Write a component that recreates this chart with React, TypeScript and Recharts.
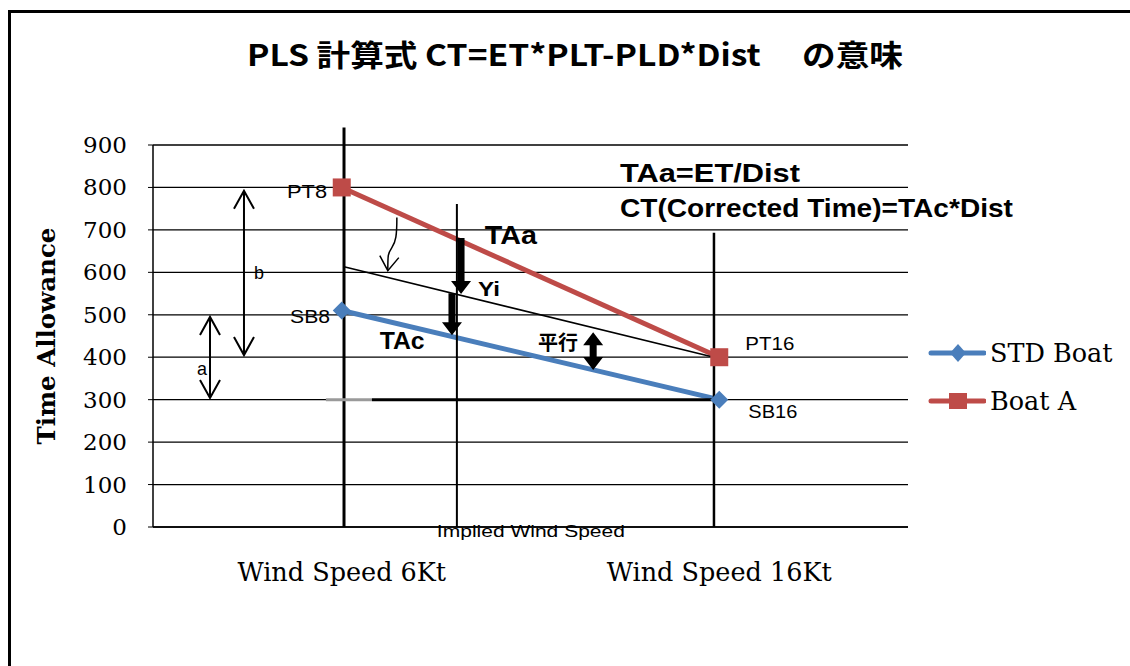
import React from 'react';
import {
  LineChart,
  Line,
  XAxis,
  YAxis,
  CartesianGrid,
  Legend,
  ReferenceLine,
  ReferenceDot,
} from 'recharts';

// ---------- data ----------
const categories = ['Wind Speed 6Kt', 'Wind Speed 16Kt'];
const stdBoat = [510, 300];
const boatA = [800, 400];
const yTicks = [0, 100, 200, 300, 400, 500, 600, 700, 800, 900];
const seriesNames = ['STD Boat', 'Boat A'];
const titleText = 'PLS 計算式 CT=ET*PLT-PLD*Dist\u3000 の意味';
const yAxisTitle = 'Time Allowance';

// category slots on a numeric axis (slot centers at 0.5, 1.5)
const data = categories.map((c, i) => ({ x: i + 0.5, name: c, std: stdBoat[i], a: boatA[i] }));
const xTicks = categories.map((_, i) => i + 0.5);

// annotation guide lines in data units
const guideLines = [
  { from: [0.506, 941], to: [0.506, 0], w: 3, c: '#000' },
  { from: [0.805, 761], to: [0.805, 0], w: 2, c: '#000' },
  { from: [1.486, 693], to: [1.486, 0], w: 2.5, c: '#000' },
  { from: [0.458, 300], to: [0.58, 300], w: 3, c: '#9a9a9a' },
  { from: [0.58, 300], to: [1.486, 300], w: 3, c: '#000' },
  { from: [0.506, 613], to: [1.486, 400], w: 1.6, c: '#000' },
];

// arrows in data units
const arrows = [
  { from: [0.241, 792], to: [0.241, 405], kind: 'open2' },
  { from: [0.151, 495], to: [0.151, 304], kind: 'open2' },
  { from: [0.816, 681], to: [0.816, 549], kind: 'solid1' },
  { from: [0.792, 551], to: [0.792, 452], kind: 'solid1' },
  { from: [1.166, 459], to: [1.166, 370], kind: 'solid2' },
  { from: [0.646, 729], to: [0.622, 604], kind: 'curl' },
];

// text notes in data units
const notes = [
  { t: 'PT8', x: 0.408, y: 790, size: 18, w: 40, bold: false },
  { t: 'SB8', x: 0.416, y: 497, size: 18, w: 40, bold: false },
  { t: 'PT16', x: 1.634, y: 433, size: 18, w: 49, bold: false },
  { t: 'SB16', x: 1.642, y: 271, size: 18, w: 49, bold: false },
  { t: 'TAa', x: 0.948, y: 688, size: 25, w: 52, bold: true },
  { t: 'Yi', x: 0.89, y: 561, size: 20, w: 22, bold: true },
  { t: 'TAc', x: 0.66, y: 438, size: 23, w: 45, bold: true },
  { t: '平行', x: 1.073, y: 434, size: 20, w: 40, bold: true, cjk: true },
  { t: 'TAa=ET/Dist', x: 1.237, y: 834, size: 25, w: 180, bold: true, anchor: 'start' },
  { t: 'CT(Corrected Time)=TAc*Dist', x: 1.237, y: 752, size: 25, w: 393, bold: true, anchor: 'start' },
  { t: 'Implied Wind Speed', x: 1.001, y: -9, size: 16, w: 188, bold: false },
  { t: 'b', x: 0.281, y: 601, size: 19, w: 10, bold: false },
  { t: 'a', x: 0.13, y: 375, size: 19, w: 10, bold: false },
];

// ---------- styles ----------
const FONT_SERIF = '"DejaVu Serif", serif';
const FONT_SANS = '"Liberation Sans", Arial, sans-serif';
const FONT_CJK = '"Noto Sans CJK JP", sans-serif';
const BLUE = '#4a7ebb';
const RED = '#be4b48';

function DiamondDot(props: any) {
  const { cx, cy, index } = props;
  if (cx == null || cy == null) return null;
  const r = 9;
  return (
    <polygon
      key={`dia-${index}`}
      points={`${cx},${cy - r} ${cx + r},${cy} ${cx},${cy + r} ${cx - r},${cy}`}
      fill={BLUE}
    />
  );
}

function SquareDot(props: any) {
  const { cx, cy, index } = props;
  if (cx == null || cy == null) return null;
  return <rect key={`sq-${index}`} x={cx - 9} y={cy - 9} width={18} height={18} fill={RED} />;
}

function arrowShape(kind: string) {
  return (p: any) => {
    const { x1, y1, x2, y2 } = p;
    if (x1 == null || y1 == null) return null;
    const dx = x2 - x1;
    const dy = y2 - y1;
    const len = Math.hypot(dx, dy) || 1;
    const ux = dx / len;
    const uy = dy / len;
    const nx = -uy;
    const ny = ux;
    if (kind === 'open2') {
      const L = 18;
      const W = 10;
      const head = (tx: number, ty: number, ddx: number, ddy: number) =>
        `M${tx - ddx * L + nx * W},${ty - ddy * L + ny * W} L${tx},${ty} L${tx - ddx * L - nx * W},${ty - ddy * L - ny * W}`;
      const d = `M${x1},${y1} L${x2},${y2} ${head(x2, y2, ux, uy)} ${head(x1, y1, -ux, -uy)}`;
      return <path d={d} stroke="#000" strokeWidth={2} fill="none" />;
    }
    if (kind === 'curl') {
      const d = `M${x1},${y1} C${x1},${y1 + 18} ${x1 - 1},${y1 + 24} ${x1 - 5},${y1 + 30} S${x2},${y2 - 16} ${x2},${y2}`;
      const L = 15;
      const W = 9;
      const hd = `M${x2 - 8},${y2 - L} L${x2},${y2} L${x2 + W + 2},${y2 - L + 2}`;
      return (
        <g>
          <path d={d} stroke="#000" strokeWidth={1.5} fill="none" />
          <path d={hd} stroke="#000" strokeWidth={1.5} fill="none" />
        </g>
      );
    }
    const sw = 7;
    const hw = 10;
    const hl = 13;
    const pt = (bx: number, by: number, along: number, side: number) =>
      `${bx + ux * along + nx * side},${by + uy * along + ny * side}`;
    let pts: string[];
    if (kind === 'solid2') {
      pts = [
        pt(x1, y1, 0, 0),
        pt(x1, y1, hl, hw),
        pt(x1, y1, hl, sw / 2),
        pt(x2, y2, -hl, sw / 2),
        pt(x2, y2, -hl, hw),
        pt(x2, y2, 0, 0),
        pt(x2, y2, -hl, -hw),
        pt(x2, y2, -hl, -sw / 2),
        pt(x1, y1, hl, -sw / 2),
        pt(x1, y1, hl, -hw),
      ];
    } else {
      pts = [
        pt(x1, y1, 0, sw / 2),
        pt(x2, y2, -hl, sw / 2),
        pt(x2, y2, -hl, hw),
        pt(x2, y2, 0, 0),
        pt(x2, y2, -hl, -hw),
        pt(x2, y2, -hl, -sw / 2),
        pt(x1, y1, 0, -sw / 2),
      ];
    }
    return <polygon points={pts.join(' ')} fill="#000" />;
  };
}

function lineShape(w: number, c: string) {
  return (p: any) => {
    const { x1, y1, x2, y2 } = p;
    if (x1 == null) return null;
    return <line x1={x1} y1={y1} x2={x2} y2={y2} stroke={c} strokeWidth={w} />;
  };
}

function noteShape(n: any) {
  return (p: any) => {
    const { cx, cy } = p;
    if (cx == null || cy == null) return null;
    return (
      <text
        x={cx}
        y={cy + n.size * 0.36}
        textAnchor={n.anchor || 'middle'}
        fontSize={n.size}
        fontFamily={n.cjk ? FONT_CJK : FONT_SANS}
        fontWeight={n.bold ? 700 : 400}
        textLength={n.w}
        lengthAdjust="spacingAndGlyphs"
        fill="#000"
      >
        {n.t}
      </text>
    );
  };
}

function XTick(props: any) {
  const { x, y, payload } = props;
  const idx = Math.round(payload.value - 0.5);
  return (
    <text x={x} y={y + 54} textAnchor="middle" fontSize={25.5} fontFamily={FONT_SERIF} fill="#000">
      {categories[idx]}
    </text>
  );
}

function YTick(props: any) {
  const { x, y, payload } = props;
  return (
    <text x={x} y={y + 8} textAnchor="end" fontSize={23} fontFamily={FONT_SERIF} fill="#000">
      {payload.value}
    </text>
  );
}

function YTitle(props: any) {
  const vb = props.viewBox || { x: 73, y: 145, width: 80, height: 382 };
  const cx = vb.x - 27;
  const cy = vb.y + vb.height / 2;
  return (
    <text
      x={cx}
      y={cy}
      transform={`rotate(-90 ${cx} ${cy})`}
      textAnchor="middle"
      dominantBaseline="central"
      fontSize={24.5}
      fontWeight={700}
      fontFamily={FONT_SERIF}
      fill="#000"
    >
      {yAxisTitle}
    </text>
  );
}

function LegendContent(props: any) {
  const items = [...(props.payload || [])].sort(
    (p: any, q: any) => seriesNames.indexOf(p.value) - seriesNames.indexOf(q.value)
  );
  return (
    <div style={{ fontFamily: 'DejaVu Serif', fontSize: 25.5, color: '#000' }}>
      {items.map((it: any, i: number) => (
        <div key={i} style={{ display: 'flex', alignItems: 'center', height: 48 }}>
          <svg width={58} height={24} style={{ display: 'block' }}>
            <line x1={3} y1={12} x2={56} y2={12} stroke={it.color} strokeWidth={5} strokeLinecap="round" />
            {it.dataKey === 'std' ? (
              <polygon points="30,3 38,12 30,21 22,12" fill={it.color} />
            ) : (
              <rect x={21} y={4} width={18} height={16} fill={it.color} />
            )}
          </svg>
          <span
            style={{
              marginLeft: 4,
              whiteSpace: 'nowrap',
              lineHeight: '24px',
              fontFamily: 'DejaVu Serif',
              fontSize: 25.5,
            }}
          >
            {it.value}
          </span>
        </div>
      ))}
    </div>
  );
}

export default function App() {
  return (
    <div style={{ position: 'absolute', left: 0, top: 0, width: 1130, height: 666, background: '#fff', overflow: 'hidden' }}>
      <LineChart
        width={1130}
        height={666}
        data={data}
        margin={{ top: 145, right: 222, bottom: 109, left: 73 }}
      >
        <CartesianGrid vertical={false} stroke="#000" strokeWidth={1.3} />
        <XAxis
          dataKey="x"
          type="number"
          domain={[0, 2]}
          ticks={xTicks}
          interval={0}
          height={30}
          tickSize={0}
          tickMargin={0}
          tickLine={false}
          axisLine={{ stroke: '#000', strokeWidth: 1.5 }}
          tick={XTick}
        />
        <YAxis
          type="number"
          domain={[0, 900]}
          ticks={yTicks}
          interval={0}
          width={80}
          tickSize={5}
          tickMargin={21}
          axisLine={{ stroke: '#000', strokeWidth: 1.5 }}
          tickLine={{ stroke: '#000' }}
          tick={YTick}
          label={{ content: YTitle }}
        />
        <Legend
          layout="horizontal"
          align="center"
          verticalAlign="middle"
          wrapperStyle={{ position: 'absolute', left: 928, top: 329, width: 200 }}
          content={LegendContent}
        />
        <Line
          dataKey="std"
          name={seriesNames[0]}
          stroke={BLUE}
          strokeWidth={5}
          dot={DiamondDot}
          activeDot={false}
          isAnimationActive={false}
        />
        <Line
          dataKey="a"
          name={seriesNames[1]}
          stroke={RED}
          strokeWidth={5}
          dot={SquareDot}
          activeDot={false}
          isAnimationActive={false}
        />
        {guideLines.map((g, i) => (
          <ReferenceLine
            key={`g-${i}`}
            segment={[{ x: g.from[0], y: g.from[1] }, { x: g.to[0], y: g.to[1] }]}
            ifOverflow="visible"
            shape={lineShape(g.w, g.c)}
          />
        ))}
        {arrows.map((a, i) => (
          <ReferenceLine
            key={`a-${i}`}
            segment={[{ x: a.from[0], y: a.from[1] }, { x: a.to[0], y: a.to[1] }]}
            ifOverflow="visible"
            shape={arrowShape(a.kind)}
          />
        ))}
        {notes.map((n, i) => (
          <ReferenceDot key={`n-${i}`} x={n.x} y={n.y} r={0} ifOverflow="visible" shape={noteShape(n)} />
        ))}
      </LineChart>
      <svg
        width={1130}
        height={666}
        style={{ position: 'absolute', left: 0, top: 0, pointerEvents: 'none' }}
      >
        <path d="M9.5,700 V11.5 H1140" stroke="#000" strokeWidth={3} fill="none" />
        <text
          x={575}
          y={66}
          textAnchor="middle"
          fontSize={30}
          fontWeight={700}
          fontFamily={FONT_CJK}
          textLength={656}
          lengthAdjust="spacingAndGlyphs"
          fill="#000"
          style={{ whiteSpace: 'pre' }}
        >
          {titleText}
        </text>
      </svg>
    </div>
  );
}
